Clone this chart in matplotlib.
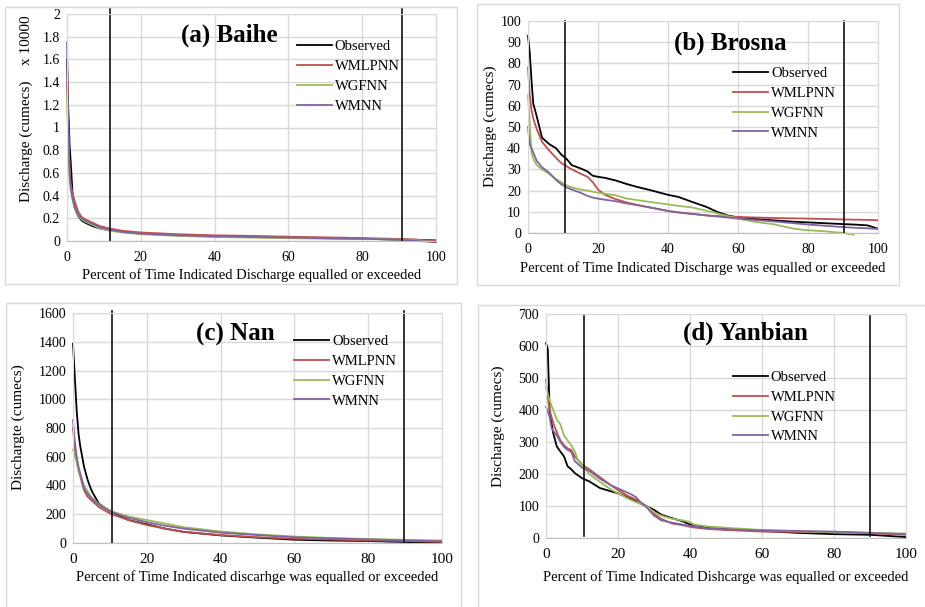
import matplotlib
matplotlib.use("Agg")
import matplotlib.pyplot as plt
from matplotlib.patches import Rectangle
from matplotlib.ticker import FuncFormatter

plt.rcParams['font.family'] = ['Liberation Serif', 'DejaVu Serif']

series_names = ['Observed', 'WMLPNN', 'WGFNN', 'WMNN']
series_colors = ['#000000', '#c0504d', '#9bbb59', '#8064a2']

# (a) Baihe, discharge x 10000
pct_a = [0, 0.3, 0.7, 1, 1.5, 2, 3, 4, 5, 7, 9, 11.6, 15, 20, 30, 40, 50, 60, 70, 80, 90, 95, 100]
obs_a = [1.60, 1.20, 0.85, 0.70, 0.42, 0.30, 0.22, 0.18, 0.16, 0.13, 0.11, 0.095, 0.08, 0.065, 0.05, 0.04, 0.035, 0.03, 0.025, 0.02, 0.012, 0.01, 0.005]
wmlpnn_a = [1.40, 1.00, 0.65, 0.50, 0.42, 0.36, 0.26, 0.21, 0.19, 0.16, 0.13, 0.11, 0.09, 0.075, 0.06, 0.05, 0.045, 0.038, 0.032, 0.026, 0.018, 0.012, 0.0]
wgfnn_a = [1.30, 0.90, 0.55, 0.45, 0.36, 0.30, 0.22, 0.19, 0.17, 0.14, 0.11, 0.09, 0.075, 0.06, 0.045, 0.035, 0.03, 0.025, 0.02, 0.018, 0.012, 0.005, -0.01]
wmnn_a = [1.75, 1.10, 0.60, 0.48, 0.38, 0.31, 0.23, 0.20, 0.18, 0.15, 0.12, 0.10, 0.08, 0.065, 0.05, 0.042, 0.036, 0.03, 0.025, 0.02, 0.012, 0.0, -0.01]
cut_a = [11.6, 90.7]

# (b) Brosna
pct_b = [0, 0.5, 1, 1.5, 2.5, 4, 6, 8, 9.5, 11, 12.5, 15, 17, 18.5, 20, 22, 25, 28, 31, 35,
         40, 43, 47, 51, 54, 57, 60, 65, 70, 76, 80, 85, 90, 93]
obs_b = [93, 85, 72, 61, 55, 45, 42, 40, 37, 35, 32, 30.5, 29, 27, 26.5, 26, 24.8, 23.2, 21.8, 20.2,
         18, 17, 14.6, 12.3, 10, 8.3, 7.3, 6.6, 6, 5.3, 5, 4.6, 4.2, 4]
wmlpnn_b = [78, 65, 58, 54, 49, 43, 39, 35.5, 33, 31.5, 30, 28, 26.5, 24, 20.5, 18, 16, 14.5, 13.3, 12,
            10.4, 9.7, 9, 8.3, 8, 7.8, 7.6, 7.3, 7.1, 6.9, 6.8, 6.6, 6.4, 6.3]
wgfnn_b = [65, 52, 38, 35, 32, 30, 28, 25.5, 24, 22.5, 21.5, 20.5, 20, 19.5, 19, 18.5, 17.8, 16.3, 15.6, 14.6,
           13.5, 12.8, 12, 10.5, 9.3, 8, 6.8, 5.2, 4.2, 2, 1.3, 0.8, 0, -0.8]
wmnn_b = [50, 42, 40, 38, 34, 31, 28.5, 25, 23, 21.5, 20.5, 19, 17.5, 16.7, 16.2, 15.7, 15, 14, 13.2, 12,
          10.4, 9.7, 9, 8.3, 7.8, 7.3, 6.8, 6.1, 5.5, 4.6, 4, 3.4, 2.8, 2.5]
# tail after 93 % (WGFNN ends there)
pct_b_tail = [93, 97, 100]
obs_b_tail = [4, 3.6, 2]
wmlpnn_b_tail = [6.3, 6.2, 6]
wmnn_b_tail = [2.5, 2.2, 1.9]
cut_b = [10.6, 90.2]

# (c) Nan
pct_c = [0, 0.5, 1, 1.5, 2, 3, 4, 5, 7, 9, 10.5, 15, 20, 25, 30, 40, 50, 60, 70, 80, 90, 100]
obs_c = [1387, 1150, 920, 760, 668, 530, 436, 366, 274, 239, 216, 160, 130, 100, 77, 53, 37, 23, 17, 14, 7, 0]
wmlpnn_c = [800, 650, 575, 500, 460, 366, 320, 297, 250, 220, 200, 160, 125, 100, 78, 55, 40, 30, 24, 18, 14, 8]
wgfnn_c = [650, 600, 560, 500, 470, 400, 360, 320, 270, 240, 220, 185, 160, 135, 110, 80, 60, 45, 35, 28, 22, 18]
wmnn_c = [855, 700, 600, 530, 480, 380, 340, 310, 265, 235, 215, 175, 145, 120, 100, 72, 55, 40, 32, 25, 18, 12]
cut_c = [10.5, 89.7]

# (d) Yanbian
pct_d = [0, 0.5, 1, 1.5, 2, 3, 4, 5, 6, 7, 8, 9, 10, 11, 12, 15, 18, 20, 23, 25, 26, 28, 30, 32, 35,
         38, 40, 41, 45, 50, 60, 70, 80, 90, 100]
obs_d = [609, 590, 400, 360, 328, 286, 270, 255, 224, 215, 203, 195, 187, 182, 177, 156, 146, 140, 125, 115,
         109, 99, 88, 73, 62, 52, 42, 40, 31, 28, 22, 16, 12, 10, 3]
wmlpnn_d = [495, 440, 400, 380, 360, 330, 305, 290, 280, 275, 255, 242, 230, 222, 215, 190, 165, 150, 130, 120,
            112, 100, 75, 60, 45, 40, 35, 33, 28, 25, 20, 19, 18, 15, 10]
wgfnn_d = [470, 450, 430, 415, 400, 370, 355, 320, 305, 290, 270, 240, 228, 215, 200, 175, 152, 140, 122, 112,
           108, 100, 80, 70, 60, 55, 50, 42, 36, 32, 25, 21, 18, 16, 14]
wmnn_d = [410, 395, 380, 345, 335, 320, 300, 285, 275, 270, 240, 230, 220, 215, 210, 185, 165, 155, 140, 128,
          115, 95, 70, 55, 48, 42, 38, 36, 30, 27, 24, 22, 20, 16, 12]
cut_d = [10.6, 90.0]

W, H = 925, 607
fig = plt.figure(figsize=(W / 100, H / 100), dpi=100)


def px_box(x0, y0, x1, y1):
    return [x0 / W, 1 - y1 / H, (x1 - x0) / W, (y1 - y0) / H]


# grey frames around each chart
for x0, y0, x1, y1 in [(5, 7, 457, 284), (477, 4, 899, 285), (6, 303, 461, 612), (478, 305, 930, 612)]:
    fig.add_artist(Rectangle((x0 / W, 1 - y1 / H), (x1 - x0) / W, (y1 - y0) / H,
                             transform=fig.transFigure, fill=False, ec='#d9d9d9', lw=1.0))

# each series as (x list, y list) pairs
panels = [
    dict(box=(67, 14, 436, 241), cut=cut_a,
         xs=[pct_a, pct_a, pct_a, pct_a], ys=[obs_a, wmlpnn_a, wgfnn_a, wmnn_a],
         ymax=2, ystep=0.2, title='(a) Baihe', tpos=(0.44, 0.905), xts=10,
         ylabel='Discharge (cumecs)    x 10000', ylc=(-0.111, 0.584),
         xlabel='Percent of Time Indicated Discharge equalled or exceeded', xlc=(0.5, -0.15),
         leg=(0.623, 0.885), vspan=(0, 1.02)),
    dict(box=(528, 21, 878, 233), cut=cut_b,
         xs=[pct_b + pct_b_tail[1:], pct_b + pct_b_tail[1:], pct_b, pct_b + pct_b_tail[1:]],
         ys=[obs_b + obs_b_tail[1:], wmlpnn_b + wmlpnn_b_tail[1:], wgfnn_b, wmnn_b + wmnn_b_tail[1:]],
         ymax=100, ystep=10, title='(b) Brosna', tpos=(0.577, 0.895), xts=10,
         ylabel='Discharge (cumecs)', ylc=(-0.109, 0.505),
         xlabel='Percent of Time Indicated Discharge was equalled or exceeded', xlc=(0.5, -0.165),
         leg=(0.586, 0.783), vspan=(0, 1)),
    dict(box=(73, 313, 442, 543), cut=cut_c,
         xs=[pct_c, pct_c, pct_c, pct_c], ys=[obs_c, wmlpnn_c, wgfnn_c, wmnn_c],
         ymax=1600, ystep=200, title='(c) Nan', tpos=(0.439, 0.905), xts=11,
         ylabel='Dischargte (cumecs)', ylc=(-0.149, 0.502),
         xlabel='Percent of Time Indicated discarhge was equalled or exceeded', xlc=(0.5, -0.148),
         leg=(0.599, 0.904), vspan=(0, 1.01)),
    dict(box=(546, 314, 906, 538), cut=cut_d,
         xs=[pct_d, pct_d, pct_d, pct_d], ys=[obs_d, wmlpnn_d, wgfnn_d, wmnn_d],
         ymax=700, ystep=100, title='(d) Yanbian', tpos=(0.553, 0.915), xts=11,
         ylabel='Discharge (cumecs)', ylc=(-0.133, 0.5),
         xlabel='Percent of Time Indicated Dishcarge was equalled or exceeded', xlc=(0.5, -0.174),
         leg=(0.519, 0.746), vspan=(0.01, 0.99)),
]

for p in panels:
    ax = fig.add_axes(px_box(*p['box']))
    for name, col, x, y in zip(series_names, series_colors, p['xs'], p['ys']):
        ax.plot(x, y, color=col, lw=1.3, label=name, clip_on=False)
    for c in p['cut']:
        ax.axvline(c, ymin=p['vspan'][0], ymax=p['vspan'][1], color='#111111', lw=1.2, clip_on=False)
    ax.set_xlim(0, 100)
    ax.set_ylim(0, p['ymax'])
    ax.set_xticks(range(0, 101, 20))
    n = int(round(p['ymax'] / p['ystep']))
    ax.set_yticks([i * p['ystep'] for i in range(n + 1)])
    ax.yaxis.set_major_formatter(FuncFormatter(lambda v, pos: '%g' % round(v, 3)))
    ax.grid(True, color='#d9d9d9', lw=1.0)
    ax.set_axisbelow(True)
    for s in ax.spines.values():
        s.set_color('#d9d9d9')
    ax.spines['bottom'].set_color('#bfbfbf')
    ax.tick_params(length=0, labelsize=10, pad=5)
    ax.tick_params(axis='x', pad=7, labelsize=p['xts'])
    ax.set_ylabel(p['ylabel'], fontsize=11, va='center')
    ax.yaxis.set_label_coords(*p['ylc'])
    ax.set_xlabel(p['xlabel'], fontsize=10.5, va='center')
    ax.xaxis.set_label_coords(*p['xlc'])
    ax.text(p['tpos'][0], p['tpos'][1], p['title'], transform=ax.transAxes, fontsize=18,
            fontweight='bold', ha='center', va='center')
    ax.legend(loc='upper left', bbox_to_anchor=p['leg'], frameon=False, fontsize=10.5,
              handlelength=2.4, handletextpad=0.2, labelspacing=0.45, borderpad=0, borderaxespad=0)

fig.savefig('out.png', dpi=100, facecolor='white')
